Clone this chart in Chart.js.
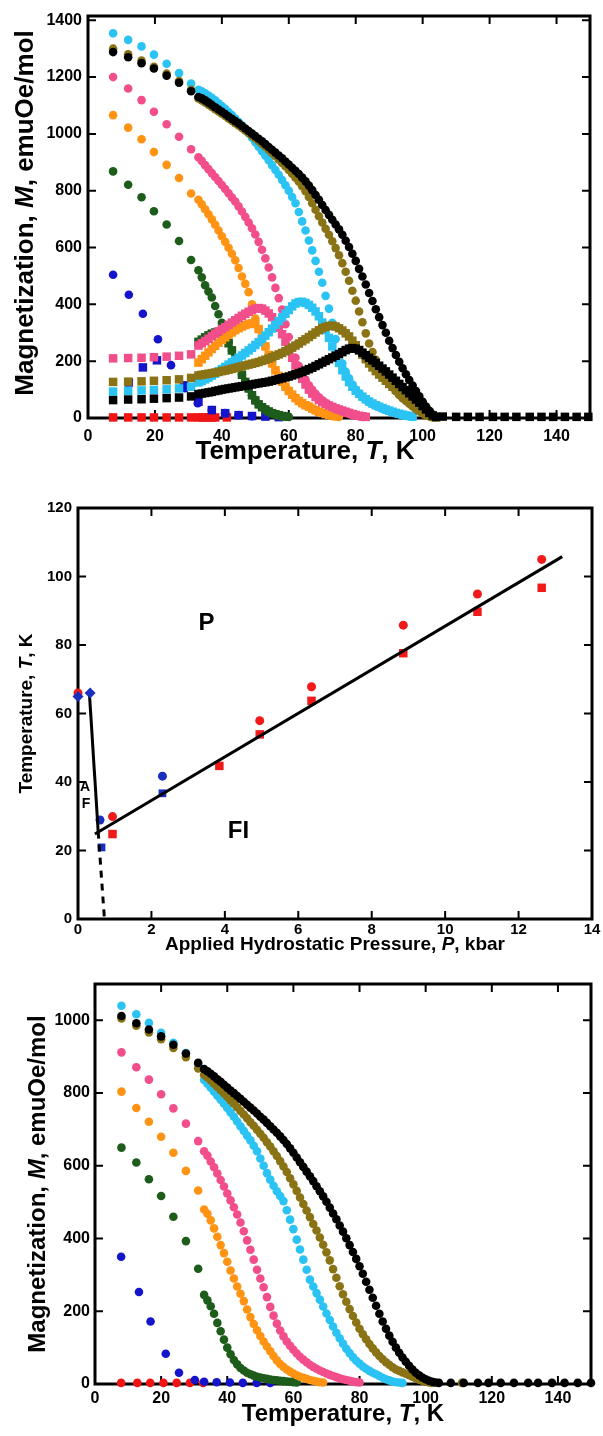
<!DOCTYPE html>
<html>
<head>
<meta charset="utf-8">
<script src="https://cdn.jsdelivr.net/npm/chart.js@4.4.1/dist/chart.umd.min.js"></script>
<style>
  body { margin: 0; background: #fff; width: 603px; height: 1436px; position: relative; overflow: hidden; }
  canvas { position: absolute; left: 0; }
</style>
</head>
<body>
<canvas id="topChart" width="603" height="470" style="top:0;width:603px;height:470px"></canvas>
<canvas id="midChart" width="603" height="490" style="top:470px;width:603px;height:490px"></canvas>
<canvas id="botChart" width="603" height="476" style="top:960px;width:603px;height:476px"></canvas>
<script>
// ---- tick labels ----
const tempTicks = [0, 20, 40, 60, 80, 100, 120, 140]
const topMTicks = [0, 200, 400, 600, 800, 1000, 1200, 1400]
const presTicks = [0, 2, 4, 6, 8, 10, 12, 14]
const midTTicks = [0, 20, 40, 60, 80, 100, 120]
const botMTicks = [0, 200, 400, 600, 800, 1000]

// ---- temperature grids (K) ----
const tGrid = [33,34,35,36,37,38,39,40,41,42,43,44,45,46,47,48,49,50,51,52,53,54,55,56,57,58,59,60,
  61,62,63,64,65,66,67,68,69,70,71,72,73,74,75,76,77,78,79,80,81,82,83,84,85,86,87,88,89,90,
  91,92,93,94,95,96,97,98,99,100,101,102,103,104]

// ---- top panel: FC (circles) and ZFC (squares), M in emuOe/mol ----
const topTLow = [7.5, 12, 16, 19.7, 23.5, 27.2, 30.8]
const topTHigh = [106, 110, 113.5, 117, 121, 124.5, 128, 132, 135.5, 139, 142.5, 146, 149.5]

const topBlackFCLow = [1288, 1270, 1249, 1230, 1205, 1180, 1150]
const topBlackFC = [1130,1125,1118,1110,1102,1094,1086,1078,1070,1061,
  1053,1045,1037,1028,1019,1010,1001,992,983,974,
  964,954,944,934,924,914,903,892,881,870,
  859,846,833,818,802,785,768,750,732,715,
  698,681,664,645,624,602,578,553,525,498,
  470,440,412,383,355,327,300,272,246,222,
  198,175,154,134,114,95,76,57,40,25,
  12,5]
const topBlackZFCLow = [63, 65, 66, 68, 70, 72, 76]
const topBlackZFC = [84,86,88,90,92,95,97,100,102,104,
  106,108,110,112,114,116,118,120,122,124,
  126,128,131,134,137,140,143,146,150,154,
  158,162,167,172,177,183,189,195,201,207,
  213,219,225,232,239,244,246,244,238,230,
  221,212,203,194,184,174,164,153,142,131,
  120,109,98,87,76,65,54,42,30,18,
  9,4]
const topBlackHigh = [5, 4, 4, 4, 4, 4, 4, 4, 4, 4, 4, 4, 4]

const topOliveFCLow = [1300, 1280, 1258, 1236, 1212, 1186, 1155]
const topOliveFC = [1125,1118,1111,1103,1095,1087,1079,1071,1063,1054,
  1046,1038,1030,1021,1012,1003,994,985,975,965,
  955,944,933,922,910,898,886,873,860,846,
  832,816,798,778,756,733,710,688,666,645,
  622,598,573,545,515,483,448,413,375,337,
  298,262,232,205,181,160,140,122,108,94,
  81,70,60,50,41,32,24,17,11,6,
  3,2]
const topOliveZFCLow = [127, 128, 129, 131, 133, 136, 141]
const topOliveZFC = [150,152,154,156,158,160,162,165,167,170,
  173,176,179,182,185,188,191,194,197,201,
  205,209,214,219,224,229,235,241,248,255,
  262,270,277,285,293,301,309,316,321,324,
  325,322,316,308,298,287,272,256,240,223,
  207,192,178,165,153,142,131,120,110,100,
  90,80,70,60,49,38,28,20,13,8,
  4,2]

const topCyanFCLow = [1354, 1331, 1308, 1279, 1247, 1214, 1177]
const topCyanFC = [1155,1150,1143,1135,1127,1118,1108,1098,1088,1077,
  1066,1054,1042,1030,1016,1002,987,971,955,939,
  923,907,890,873,856,838,819,800,778,756,
  725,692,660,625,590,553,515,476,430,385,
  335,278,228,192,163,140,118,100,86,74,
  64,56,49,43,38,33,28,24,20,16,
  13,10,8,6,4]
const topCyanZFCLow = [93, 95, 97, 99, 101, 104, 110]
const topCyanZFC = [125,130,136,142,149,156,164,172,180,188,
  196,204,212,220,229,238,247,257,267,278,
  290,302,315,328,341,354,367,380,393,403,
  408,409,405,398,388,375,358,336,310,282,
  252,222,194,168,146,126,110,96,85,75,
  66,58,51,45,40,35,30,26,22,18,
  15,12,9,7,5]

const topPinkFCLow = [1200, 1160, 1119, 1078, 1034, 990, 946]
const topPinkFC = [918,905,890,876,862,848,834,820,806,791,
  776,762,745,727,708,688,668,646,620,592,
  562,530,495,458,422,382,330,285,245,212,
  183,158,135,115,99,85,73,62,53,45,
  38,32,27,22,18,14,11,8,6,4]
const topPinkZFCLow = [210, 211, 212, 214, 216, 219, 224]
const topPinkZFC = [255,263,271,279,288,297,305,313,320,328,
  336,344,352,360,367,374,380,385,387,385,
  378,368,355,338,318,295,268,240,212,185,
  160,138,118,100,86,74,64,56,50,44,
  39,34,30,26,22,18,14,11,8,6,
  4]

const topOrangeFCLow = [1066, 1022, 981, 936, 891, 845, 790]
const topOrangeFC = [768,752,735,717,699,680,660,640,620,599,
  578,555,528,498,472,443,400,350,313,283,
  252,222,192,168,148,128,110,95,82,70,
  60,52,45,40,33,27,22,18,14,11,
  8,6,4]
const topOrangeZFC = [195,207,219,231,243,254,265,275,284,293,
  301,309,316,322,327,331,333,331,313,283,
  252,222,192,168,148,128,110,95,82,70,
  60,52,45,40,33,27,22,18,14,11,
  8,6]

const topGreenFCLow = [868, 821, 777, 728, 681, 623, 556]
const topGreenFC = [520,495,467,445,424,394,365,335,302,268,
  238,210,180,152,127,104,80,62,48,38,
  30,23,17,13,10,7,5,4]
const topGreenZFC = [268,276,284,291,297,301,303,300,288,263,
  238,210,180,152,127,104,80,62,48,38,
  30,23,17,13,10,7,5]

const topBlueFCT = [7.5, 12.2, 16.4, 20.9, 24.8, 29, 32.8, 37, 41, 45, 49]
const topBlueFC = [504, 434, 367, 277, 186, 105, 52, 28, 17, 10, 6]
const topBlueZFCT = [12.2, 16.4, 20.6, 28.7, 33, 37, 41, 45, 49, 53, 57]
const topBlueZFC = [125, 178, 203, 115, 57, 28, 17, 10, 7, 5, 3]
const topRedT = [7.5, 12, 16, 19.7, 23.5, 27.2, 30.8, 33, 34, 35, 36, 37, 38, 41.5]
const topRed = [2, 2, 2, 2, 2, 2, 2, 2, 2, 2, 2, 2, 2, 2]

// ---- middle panel: phase diagram, T (K) vs P (kbar) ----
const midRedCircleP = [0, 0.94, 4.95, 6.36, 8.86, 10.88, 12.63]
const midRedCircleT = [66, 29.9, 57.9, 67.8, 85.8, 94.9, 105]
const midRedSquareP = [0.94, 3.85, 4.95, 6.36, 8.86, 10.88, 12.63]
const midRedSquareT = [24.8, 44.7, 53.9, 63.7, 77.6, 89.7, 96.7]
const midBlueCircleP = [0.6, 2.3]
const midBlueCircleT = [28.9, 41.7]
const midBlueSquareP = [0.64, 2.3]
const midBlueSquareT = [20.9, 36.7]
const midBlueDiamondP = [0, 0.33]
const midBlueDiamondT = [65, 66]
const midFitP = [0.46, 13.19]
const midFitT = [24.8, 105.8]
const midAFP = [0.31, 0.55]
const midAFT = [66, 25.5]
const midDashP = [0.55, 0.72]
const midDashT = [25.5, 0]

// ---- bottom panel: FC curves ----
const botTLow = [8, 12.5, 16.3, 20, 23.7, 27.5, 31.2]
const botTHigh = [107.6, 111.5, 115.8, 119, 122.7, 126.7, 131, 134, 138.2, 142, 146, 150]

const botBlackLow = [1012, 992, 975, 956, 933, 909, 883]
const botBlack = [866,860,853,846,838,831,823,815,807,800,
  792,784,776,768,760,752,744,735,727,718,
  709,700,691,681,671,660,648,636,623,610,
  597,584,571,558,544,530,516,501,485,469,
  453,436,419,401,382,363,344,324,303,281,
  259,237,215,193,172,152,133,116,100,86,
  73,61,50,40,31,24,18,13,9,6,
  4,3]
const botBlackHigh = [3, 3, 3, 3, 3, 3, 3, 3, 3, 3, 3, 3]
const botOliveLow = [1005, 985, 967, 948, 924, 899, 868]
const botOlive = [850,843,835,826,817,808,799,790,780,771,
  761,751,741,731,720,710,699,688,677,665,
  653,640,627,613,598,583,566,549,531,513,
  495,477,459,440,422,403,383,362,340,316,
  292,269,247,226,206,187,169,152,137,123,
  110,98,87,77,68,60,53,46,40,36,
  32,28,24,20,16,12,9,6,4,3]
const botOliveHighT = [111]
const botOliveHigh = [3]
const botCyanLow = [1040, 1017, 993, 966, 938, 910, 880]
const botCyan = [836,826,815,804,793,782,771,759,747,735,
  722,709,696,683,670,655,640,620,600,580,
  562,545,530,517,503,478,452,426,397,370,
  342,314,287,268,250,232,213,194,176,158,
  141,126,111,97,85,74,64,56,48,42,
  36,31,27,22,17,13,10,7,5,4,
  3]
const botPinkLow = [912, 871, 837, 797, 758, 716, 668]
const botPink = [640,628,612,596,579,561,543,524,505,486,
  466,444,420,395,369,342,314,290,266,239,
  212,188,166,147,131,117,105,94,84,75,
  67,60,53,47,42,37,33,29,25,22,
  19,16,13,11,9,7,5,4]
const botOrangeLow = [804, 759, 721, 680, 636, 586, 532]
const botOrange = [480,468,450,428,405,382,360,336,312,290,
  268,248,228,205,184,165,148,132,117,103,
  90,77,65,55,47,40,34,29,24,20,
  17,14,11,9,7,5,4]
const botGreenLow = [650, 609, 563, 517, 460, 393, 317]
const botGreen = [245,230,214,193,168,145,122,100,82,66,
  54,44,37,31,27,23,20,18,16,14,
  12,11,10,9,8,7,6,5,4]
const botBlueT = [7.9, 13.3, 16.8, 21.4, 25.4, 30.2, 33, 36.8, 40.8, 44.7, 48.9, 53]
const botBlue = [350, 253, 172, 83, 31, 11, 6, 5, 4, 3, 3, 3]
const botRedT = [7.9, 12.8, 16.7, 20.7, 24.7, 28.7, 32.7]
const botRed = [3, 3, 3, 3, 3, 3, 3]

// ---- colours ----
const CYAN = '#2ac3f3', BLACK = '#000000', OLIVE = '#8a7314', PINK = '#f14e8b'
const ORANGE = '#ff9414', GREEN = '#1d5c1a', BLUE = '#1414cc', RED = '#f01414'
const FONT = '"Liberation Sans", Arial, Helvetica, sans-serif'

function pts(ts, ms) {
  return ms.map((m, i) => ({ x: ts[i], y: m }))
}

function dots(color, data, style, r) {
  return {
    data,
    showLine: false,
    pointStyle: style,
    pointRadius: r,
    pointHoverRadius: r,
    pointBackgroundColor: color,
    pointBorderWidth: 0,
    clip: false
  }
}

function line(data, dash) {
  return {
    data,
    showLine: true,
    borderColor: '#000',
    borderWidth: 3,
    borderDash: dash || [],
    pointRadius: 0,
    clip: false
  }
}

function axis(min, max, tickVals, size, pad, fit) {
  return {
    type: 'linear',
    min, max,
    grid: { display: false, drawTicks: false },
    border: { display: false },
    ticks: {
      padding: pad, color: '#000', autoSkip: false, maxRotation: 0,
      font: { family: FONT, size, weight: 'bold' },
      callback: v => String(v)
    },
    afterBuildTicks: s => { s.ticks = tickVals.map(v => ({ value: v })) },
    afterFit: fit
  }
}

function richText(ctx, parts, x, y, size, rotate) {
  ctx.save()
  ctx.translate(x, y)
  if (rotate) ctx.rotate(-Math.PI / 2)
  ctx.textBaseline = 'middle'
  ctx.textAlign = 'left'
  ctx.fillStyle = '#000'
  const fonts = parts.map(p => (p[1] ? 'italic ' : '') + 'bold ' + size + 'px ' + FONT)
  let w = 0
  parts.forEach((p, i) => { ctx.font = fonts[i]; w += ctx.measureText(p[0]).width })
  let cx = -w / 2
  parts.forEach((p, i) => {
    ctx.font = fonts[i]
    ctx.fillText(p[0], cx, 0)
    cx += ctx.measureText(p[0]).width
  })
  ctx.restore()
}

// frame and inward ticks on all four sides
const framePlugin = {
  id: 'frame',
  beforeDatasetsDraw(chart) {
    const { ctx, chartArea: a, scales: { x, y } } = chart
    ctx.save()
    ctx.strokeStyle = '#000'
    ctx.lineWidth = 2
    ctx.beginPath()
    x.ticks.forEach(t => {
      const px = x.getPixelForValue(t.value)
      ctx.moveTo(px, a.bottom); ctx.lineTo(px, a.bottom - 8)
      ctx.moveTo(px, a.top); ctx.lineTo(px, a.top + 8)
    })
    y.ticks.forEach(t => {
      const py = y.getPixelForValue(t.value)
      ctx.moveTo(a.left, py); ctx.lineTo(a.left + 8, py)
      ctx.moveTo(a.right, py); ctx.lineTo(a.right - 8, py)
    })
    ctx.stroke()
    ctx.lineWidth = 3
    ctx.strokeRect(a.left, a.top, a.right - a.left, a.bottom - a.top)
    ctx.restore()
  }
}

// axis titles with an italic symbol; xc shifts the x title from the plot centre
function titles(xParts, yParts, size, xOff, yX, xc, yc) {
  return {
    id: 'titles',
    afterDraw(chart) {
      const a = chart.chartArea
      richText(chart.ctx, xParts, (a.left + a.right) / 2 + (xc || 0), a.bottom + xOff, size, false)
      richText(chart.ctx, yParts, yX, (a.top + a.bottom) / 2 + (yc || 0), size, true)
    }
  }
}

function baseOptions(pad, xScale, yScale) {
  return {
    responsive: false,
    animation: false,
    devicePixelRatio: 1,
    events: [],
    layout: { padding: pad },
    plugins: { legend: { display: false }, tooltip: { enabled: false } },
    scales: { x: xScale, y: yScale }
  }
}

const tempTitle = [['Temperature, ', false], ['T', true], [', K', false]]
const magTitle = [['Magnetization, ', false], ['M', true], [', emuOe/mol', false]]

// ---- top chart ----
new Chart(document.getElementById('topChart'), {
  type: 'scatter',
  data: {
    datasets: [
      dots(BLACK, pts(topTLow, topBlackFCLow).concat(pts(tGrid, topBlackFC)), 'circle', 4.3),
      dots(BLACK, pts(topTLow, topBlackZFCLow).concat(pts(tGrid, topBlackZFC), pts(topTHigh, topBlackHigh)), 'rect', 6),
      dots(OLIVE, pts(topTLow, topOliveFCLow).concat(pts(tGrid, topOliveFC)), 'circle', 4.3),
      dots(OLIVE, pts(topTLow, topOliveZFCLow).concat(pts(tGrid, topOliveZFC)), 'rect', 6),
      dots(CYAN, pts(topTLow, topCyanFCLow).concat(pts(tGrid, topCyanFC)), 'circle', 4.3),
      dots(CYAN, pts(topTLow, topCyanZFCLow).concat(pts(tGrid, topCyanZFC)), 'rect', 6),
      dots(PINK, pts(topTLow, topPinkFCLow).concat(pts(tGrid, topPinkFC)), 'circle', 4.3),
      dots(PINK, pts(topTLow, topPinkZFCLow).concat(pts(tGrid, topPinkZFC)), 'rect', 6),
      dots(ORANGE, pts(topTLow, topOrangeFCLow).concat(pts(tGrid, topOrangeFC)), 'circle', 4.3),
      dots(ORANGE, pts(tGrid, topOrangeZFC), 'rect', 6),
      dots(GREEN, pts(topTLow, topGreenFCLow).concat(pts(tGrid, topGreenFC)), 'circle', 4.3),
      dots(GREEN, pts(tGrid, topGreenZFC), 'rect', 6),
      dots(BLUE, pts(topBlueFCT, topBlueFC), 'circle', 4.3),
      dots(BLUE, pts(topBlueZFCT, topBlueZFC), 'rect', 6),
      dots(RED, pts(topRedT, topRed), 'rect', 6)
    ]
  },
  options: baseOptions({ top: 16, right: 13, left: 0, bottom: 0 },
    axis(0, 150, tempTicks, 16, 9, s => { s.height = 52 }),
    axis(0, 1415, topMTicks, 16, 6, s => { s.width = 88 })),
  plugins: [framePlugin, titles(tempTitle, magTitle, 26, 34, 26, -34, -4)]
})

// ---- middle chart ----
const midLabels = {
  id: 'midLabels',
  afterDatasetsDraw(chart) {
    const { ctx, scales: { x, y } } = chart
    const put = (txt, p, t, size) => {
      ctx.font = 'bold ' + size + 'px ' + FONT
      ctx.fillText(txt, x.getPixelForValue(p), y.getPixelForValue(t))
    }
    ctx.save()
    ctx.fillStyle = '#000'
    ctx.textAlign = 'center'
    ctx.textBaseline = 'middle'
    put('P', 3.5, 86.3, 24)
    put('FI', 4.37, 25.5, 24)
    put('A', 0.19, 38.6, 14)
    put('F', 0.22, 33.6, 14)
    ctx.restore()
  }
}

new Chart(document.getElementById('midChart'), {
  type: 'scatter',
  data: {
    datasets: [
      dots('#1a2fc0', pts(midBlueDiamondP, midBlueDiamondT), 'rectRot', 5.5),
      line(pts(midFitP, midFitT)),
      line(pts(midAFP, midAFT)),
      line(pts(midDashP, midDashT), [7, 6]),
      dots('#1a2fc0', pts(midBlueCircleP, midBlueCircleT), 'circle', 4.5),
      dots('#1a2fc0', pts(midBlueSquareP, midBlueSquareT), 'rect', 5.5),
      dots('#f01a1a', pts(midRedCircleP, midRedCircleT), 'circle', 4.5),
      dots('#f01a1a', pts(midRedSquareP, midRedSquareT), 'rect', 6)
    ]
  },
  options: baseOptions({ top: 38, right: 11, left: 0, bottom: 0 },
    axis(0, 14, presTicks, 15, 2, s => { s.height = 41 }),
    axis(0, 120, midTTicks, 15, 6, s => { s.width = 78 })),
  plugins: [framePlugin, midLabels,
    titles([['Applied Hydrostatic Pressure, ', false], ['P', true], [', kbar', false]], tempTitle, 19, 26, 27)]
})

// ---- bottom chart ----
new Chart(document.getElementById('botChart'), {
  type: 'scatter',
  data: {
    datasets: [
      dots(BLACK, pts(botTLow, botBlackLow).concat(pts(tGrid, botBlack), pts(botTHigh, botBlackHigh)), 'circle', 4.3),
      dots(OLIVE, pts(botTLow, botOliveLow).concat(pts(tGrid, botOlive), pts(botOliveHighT, botOliveHigh)), 'circle', 4.3),
      dots(CYAN, pts(botTLow, botCyanLow).concat(pts(tGrid, botCyan)), 'circle', 4.3),
      dots(PINK, pts(botTLow, botPinkLow).concat(pts(tGrid, botPink)), 'circle', 4.3),
      dots(ORANGE, pts(botTLow, botOrangeLow).concat(pts(tGrid, botOrange)), 'circle', 4.3),
      dots(GREEN, pts(botTLow, botGreenLow).concat(pts(tGrid, botGreen)), 'circle', 4.3),
      dots(BLUE, pts(botBlueT, botBlue), 'circle', 4.3),
      dots(RED, pts(botRedT, botRed), 'circle', 4.3)
    ]
  },
  options: baseOptions({ top: 24, right: 12, left: 0, bottom: 0 },
    axis(0, 150, tempTicks, 16, 5, s => { s.height = 52 }),
    axis(0, 1100, botMTicks, 16, 5, s => { s.width = 95 })),
  plugins: [framePlugin, titles(tempTitle, magTitle, 24, 30, 38)]
})
</script>
</body>
</html>
